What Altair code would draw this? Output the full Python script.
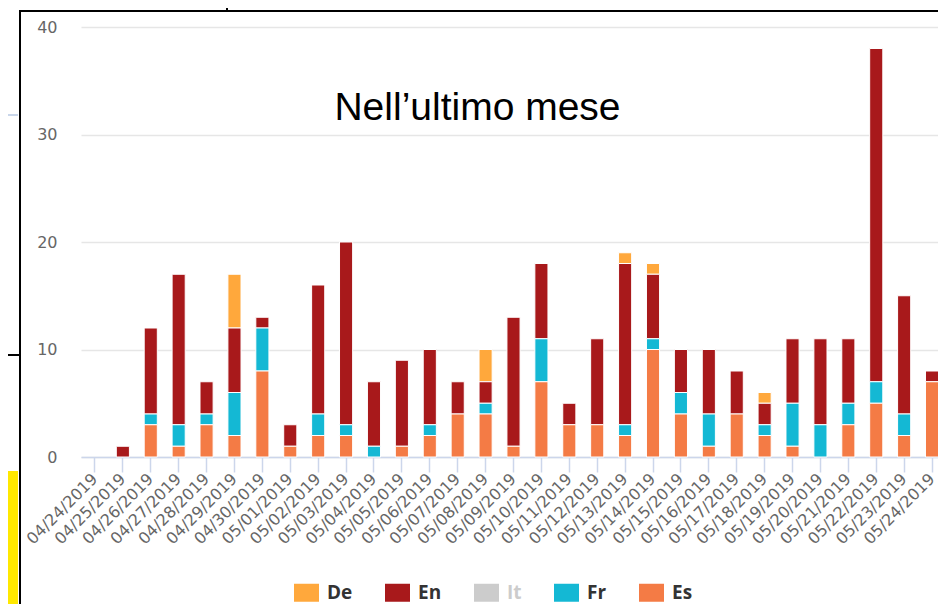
import altair as alt
import pandas as pd

dates = ["04/24/2019", "04/25/2019", "04/26/2019", "04/27/2019", "04/28/2019", "04/29/2019",
         "04/30/2019", "05/01/2019", "05/02/2019", "05/03/2019", "05/04/2019", "05/05/2019",
         "05/06/2019", "05/07/2019", "05/08/2019", "05/09/2019", "05/10/2019", "05/11/2019",
         "05/12/2019", "05/13/2019", "05/14/2019", "05/15/2019", "05/16/2019", "05/17/2019",
         "05/18/2019", "05/19/2019", "05/20/2019", "05/21/2019", "05/22/2019", "05/23/2019",
         "05/24/2019"]
es = [0, 0, 3, 1, 3, 2, 8, 1, 2, 2, 0, 1, 2, 4, 4, 1, 7, 3, 3, 2, 10, 4, 1, 4, 2, 1, 0, 3, 5, 2, 7]
fr = [0, 0, 1, 2, 1, 4, 4, 0, 2, 1, 1, 0, 1, 0, 1, 0, 4, 0, 0, 1, 1, 2, 3, 0, 1, 4, 3, 2, 2, 2, 0]
en = [0, 1, 8, 14, 3, 6, 1, 2, 12, 17, 6, 8, 7, 3, 2, 12, 7, 2, 8, 15, 6, 4, 6, 4, 2, 6, 8, 6, 31, 11, 1]
de = [0, 0, 0, 0, 0, 5, 0, 0, 0, 0, 0, 0, 0, 0, 3, 0, 0, 0, 0, 1, 1, 0, 0, 0, 1, 0, 0, 0, 0, 0, 0]
it = [0] * len(dates)

languages = ["De", "En", "It", "Fr", "Es"]
colors = ["#ffa83c", "#a8191b", "#cccccc", "#14b8d4", "#f47b45"]
stack_rank = {"Es": 0, "Fr": 1, "It": 2, "En": 3, "De": 4}
title_text = "Nell\u2019ultimo mese"

series = {"De": de, "En": en, "It": it, "Fr": fr, "Es": es}
rows = []
for lang, vals in series.items():
    for d, v in zip(dates, vals):
        if v > 0:
            rows.append({"date": d, "lang": lang, "count": v, "rank": stack_rank[lang]})
df = pd.DataFrame(rows)

W, H = 865, 430

bars = alt.Chart(df).mark_bar(stroke="white", strokeWidth=1).encode(
    x=alt.X("date:N", sort=dates,
            scale=alt.Scale(domain=dates, paddingInner=0.53, paddingOuter=0.265),
            axis=alt.Axis(title=None, labelAngle=-45, labelFont="DejaVu Sans", labelFontSize=16,
                          labelColor="#666666", domainColor="#ccd6eb", domainWidth=1.5,
                          tickColor="#ccd6eb", tickSize=15, tickWidth=1.5, grid=False,
                          labelPadding=4, labelAlign="right", labelBaseline="middle")),
    y=alt.Y("count:Q", stack="zero",
            scale=alt.Scale(domain=[0, 40], nice=False),
            axis=alt.Axis(title=None, values=[0, 10, 20, 30, 40], domain=False, ticks=False,
                          labelFont="DejaVu Sans", labelFontSize=16, labelColor="#666666",
                          labelPadding=24, gridColor="#e6e6e6", gridWidth=1.5)),
    color=alt.Color("lang:N",
                    scale=alt.Scale(domain=languages, range=colors),
                    legend=alt.Legend(title=None, orient="none", direction="horizontal",
                                      legendX=216, legendY=556, padding=0,
                                      symbolType="M-1.39,-1H1.39V1H-1.39Z", symbolSize=324,
                                      symbolStrokeWidth=0, labelOffset=11,
                                      labelFont="Open Sans", labelFontWeight="bold",
                                      labelFontSize=19,
                                      labelColor={"expr": "datum.value === 'It' ? '#cccccc' : '#333333'"},
                                      columnPadding=31)),
    order=alt.Order("rank:Q", sort="ascending"),
)

one = pd.DataFrame({"t": [title_text]})
title = alt.Chart(one).mark_text(font="Liberation Sans", fontSize=39, color="#000000",
                                 align="center", baseline="alphabetic").encode(
    x=alt.value(396.5), y=alt.value(93), text="t:N")

deco = pd.DataFrame({"k": [0]})
frame_left = alt.Chart(deco).mark_rect(color="#000000").encode(
    x=alt.value(-62), x2=alt.value(-60), y=alt.value(-17), y2=alt.value(590))
frame_top = alt.Chart(deco).mark_rect(color="#000000").encode(
    x=alt.value(-62), x2=alt.value(880), y=alt.value(-17), y2=alt.value(-15))
frame_tick = alt.Chart(deco).mark_rect(color="#000000").encode(
    x=alt.value(145), x2=alt.value(147), y=alt.value(-30), y2=alt.value(-16))
side_line = alt.Chart(deco).mark_rect(color="#000000").encode(
    x=alt.value(-80), x2=alt.value(-61), y=alt.value(327), y2=alt.value(329))
side_blue = alt.Chart(deco).mark_rect(color="#c9d6ea").encode(
    x=alt.value(-80), x2=alt.value(-63), y=alt.value(87), y2=alt.value(89))
side_yellow = alt.Chart(deco).mark_rect(color="#ffe800").encode(
    x=alt.value(-80), x2=alt.value(-63), y=alt.value(444), y2=alt.value(590))

chart = alt.layer(side_yellow, side_blue, side_line, frame_left, frame_top, frame_tick,
                  bars, title).properties(
    width=W, height=H,
    autosize=alt.AutoSizeParams(type="none"),
    padding={"left": 73, "top": 19, "right": -8, "bottom": 147},
    background="white",
).configure_view(stroke=None)

chart.save("out.html", embed_options={"renderer": "svg", "actions": False})
